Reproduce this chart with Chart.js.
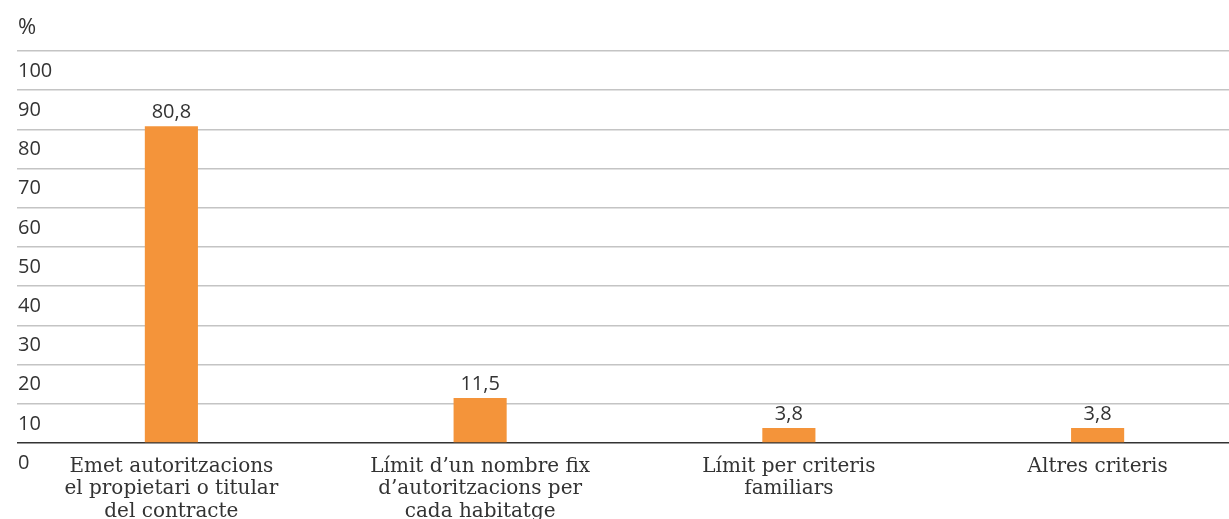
<!DOCTYPE html>
<html>
<head>
<meta charset="utf-8">
<script src="https://cdn.jsdelivr.net/npm/chart.js@4"></script>
<style>
  html, body { margin: 0; padding: 0; background: #fff; overflow: hidden; }
  #wrap { position: relative; width: 1252px; height: 519px; }
</style>
</head>
<body>
<div id="wrap"><canvas id="chart"></canvas></div>
<script>
// Categories (multi-line labels) and values
const categories = [
    ['Emet autoritzacions', 'el propietari o titular', 'del contracte'],
    ['Límit d\u2019un nombre fix', 'd\u2019autoritzacions per', 'cada habitatge'],
    ['Límit per criteris', 'familiars'],
    ['Altres criteris']
];
const values = [80.8, 11.5, 3.8, 3.8];
const yTicks = [0, 10, 20, 30, 40, 50, 60, 70, 80, 90, 100];
const unitLabel = '%';

const barColor = '#F4943A';
const textColor = '#333333';

// Draws the value labels above bars and the "%" unit label
const labelsPlugin = {
    id: 'labels',
    afterDatasetsDraw(chart) {
        const ctx = chart.ctx;
        const meta = chart.getDatasetMeta(0);
        ctx.save();
        ctx.fillStyle = textColor;
        ctx.font = '20px "Open Sans"';
        ctx.textAlign = 'center';
        ctx.textBaseline = 'bottom';
        meta.data.forEach((bar, i) => {
            ctx.fillText(values[i].toFixed(1).replace('.', ','), bar.x, bar.y - 4);
        });
        ctx.textAlign = 'left';
        ctx.textBaseline = 'middle';
        ctx.font = '22px "Open Sans"';
        ctx.fillText(unitLabel, chart.chartArea.left + 1, chart.chartArea.top - 23);
        ctx.restore();
    }
};

new Chart(document.getElementById('chart').getContext('2d'), {
    type: 'bar',
    data: {
        labels: categories,
        datasets: [{
            data: values,
            backgroundColor: barColor,
            borderWidth: 0,
            barPercentage: 0.172,
            categoryPercentage: 1
        }]
    },
    options: {
        responsive: true,
        maintainAspectRatio: false,
        animation: false,
        layout: { padding: { left: 15, top: 51, right: 0, bottom: 0 } },
        plugins: {
            legend: { display: false },
            tooltip: { enabled: false }
        },
        scales: {
            x: {
                grid: { display: false },
                border: { display: false },
                ticks: {
                    color: textColor,
                    font: { family: '"DejaVu Serif"', size: 20, lineHeight: 1.14 },
                    padding: 4,
                    maxRotation: 0,
                    autoSkip: false
                },
                afterFit(scale) { scale.height = 76; }
            },
            y: {
                min: 0,
                max: 100,
                afterBuildTicks(scale) { scale.ticks = yTicks.map(v => ({ value: v })); },
                border: { display: false },
                grid: {
                    drawTicks: false,
                    lineWidth: 1.5,
                    color: c => (c.tick && c.tick.value === 0 ? '#333333' : '#c4c4c4')
                },
                ticks: {
                    mirror: true,
                    padding: 1,
                    labelOffset: 20,
                    color: textColor,
                    font: { family: '"Open Sans"', size: 20 }
                }
            }
        }
    },
    plugins: [labelsPlugin]
});
</script>
</body>
</html>
